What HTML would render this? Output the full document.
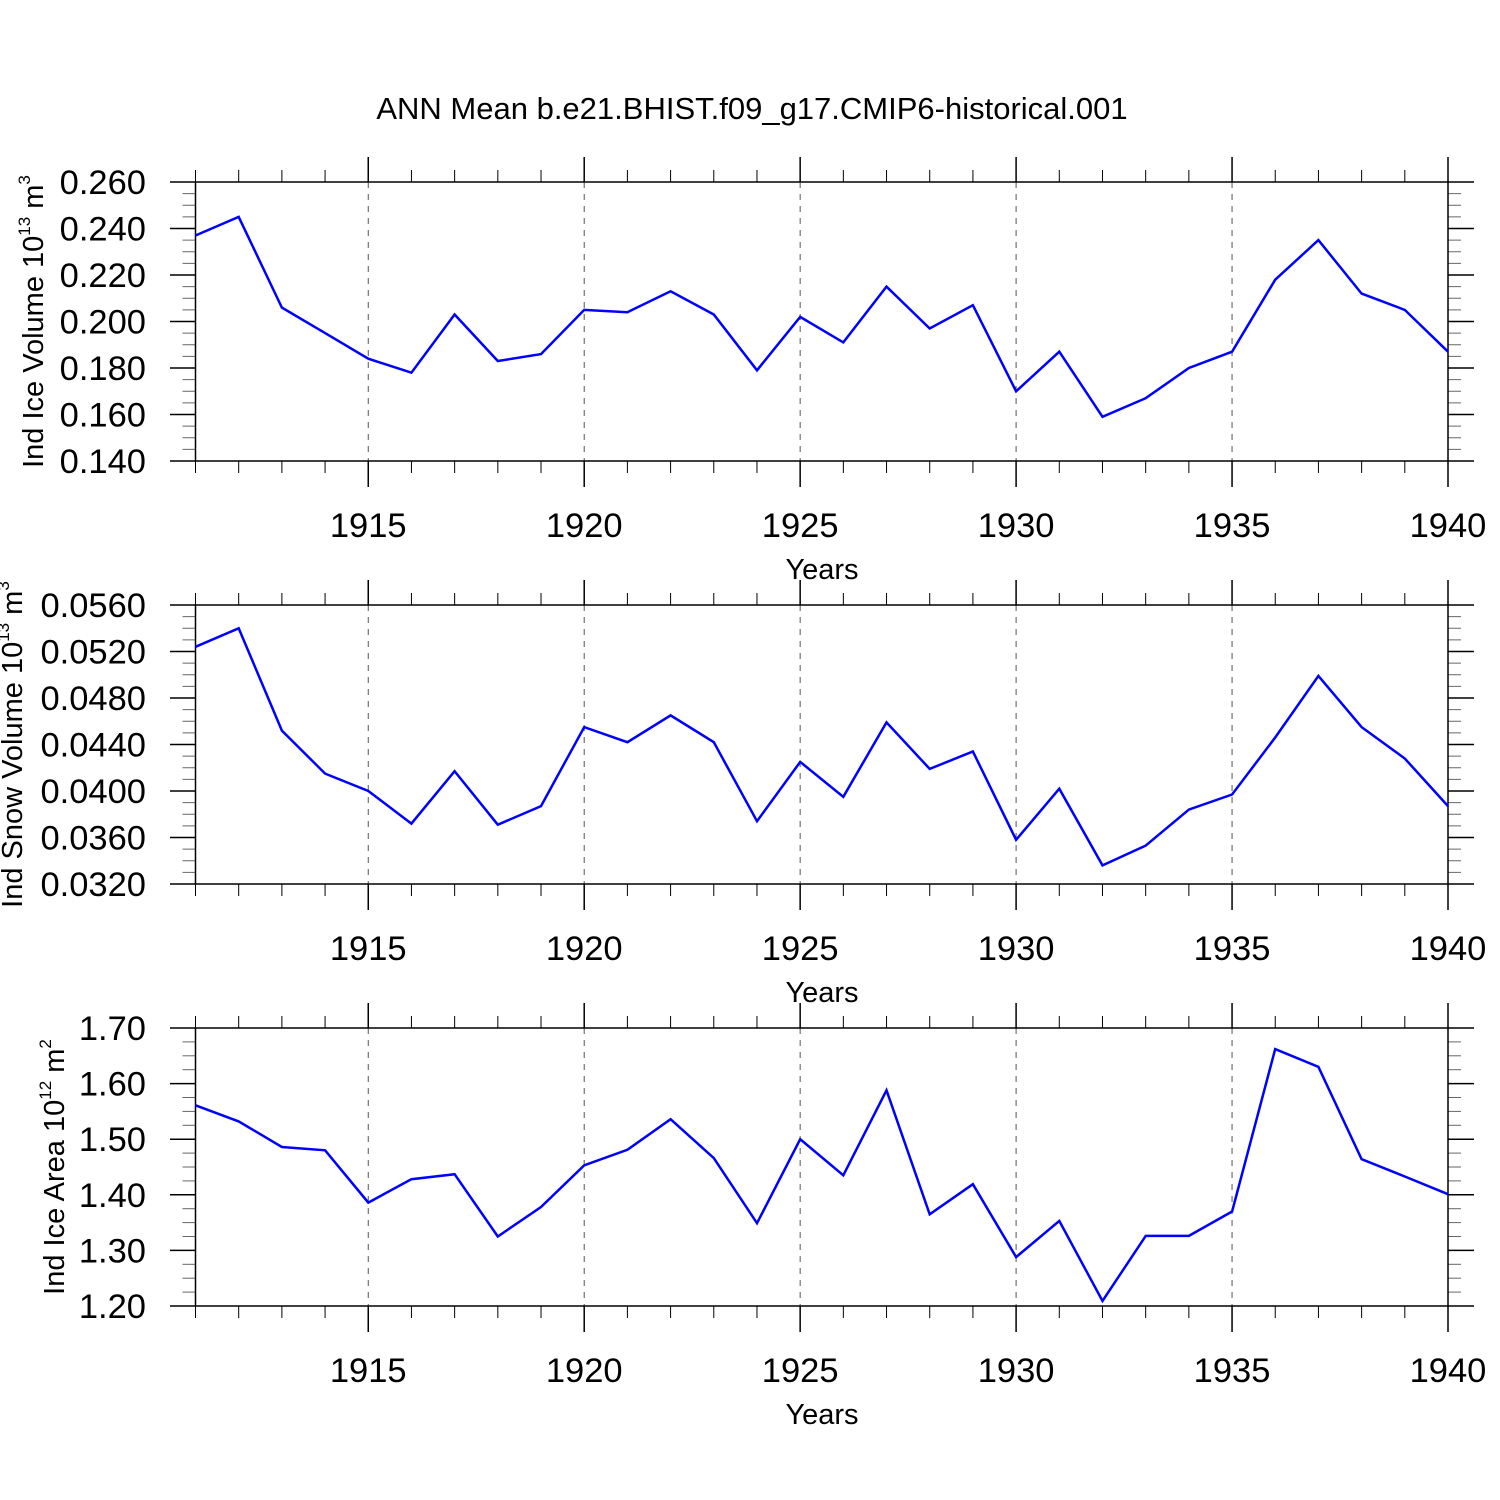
<!DOCTYPE html>
<html><head><meta charset="utf-8"><style>
body{margin:0;background:#fff}
svg{display:block;font-family:"Liberation Sans",sans-serif}
</style></head><body>
<svg id="chart" width="1500" height="1500" viewBox="0 0 1500 1500">
<text x="752" y="119" font-size="31" text-anchor="middle">ANN Mean b.e21.BHIST.f09_g17.CMIP6-historical.001</text>
</svg>
<script>
const years = [1911,1912,1913,1914,1915,1916,1917,1918,1919,1920,1921,1922,1923,1924,1925,1926,1927,1928,1929,1930,1931,1932,1933,1934,1935,1936,1937,1938,1939,1940];
const iceVolume = [0.237,0.245,0.206,0.195,0.184,0.178,0.203,0.183,0.186,0.205,0.204,0.213,0.203,0.179,0.202,0.191,0.215,0.197,0.207,0.170,0.187,0.159,0.167,0.180,0.187,0.218,0.235,0.212,0.205,0.187];
const snowVolume = [0.0524,0.0540,0.0452,0.0415,0.0400,0.0372,0.0417,0.0371,0.0387,0.0455,0.0442,0.0465,0.0442,0.0374,0.0425,0.0395,0.0459,0.0419,0.0434,0.0358,0.0402,0.0336,0.0353,0.0384,0.0397,0.0446,0.0499,0.0455,0.0428,0.0387];
const iceArea = [1.561,1.532,1.486,1.480,1.386,1.428,1.437,1.325,1.378,1.453,1.481,1.536,1.466,1.349,1.500,1.435,1.588,1.365,1.419,1.288,1.353,1.209,1.326,1.326,1.370,1.662,1.630,1.464,1.433,1.401];
const xTickLabels = [1915,1920,1925,1930,1935,1940];
const iceVolTicks = [0.140,0.160,0.180,0.200,0.220,0.240,0.260];
const snowVolTicks = [0.0320,0.0360,0.0400,0.0440,0.0480,0.0520,0.0560];
const areaTicks = [1.20,1.30,1.40,1.50,1.60,1.70];

const svg = document.getElementById('chart');
const NS = 'http://www.w3.org/2000/svg';
function mk(tag, attrs, parent){const e=document.createElementNS(NS,tag);for(const k in attrs)e.setAttribute(k,attrs[k]);(parent||svg).appendChild(e);return e;}
const X0=195.5, X1=1448, xMin=1911, xMax=1940;
const xs = v => X0 + (v-xMin)/(xMax-xMin)*(X1-X0);

function panel(name, top, bottom, vals, ticks, dec, ylab, sup, unit, unitSup, labX){
  const g = mk('g',{});
  
  
  const yMin=ticks[0], yMax=ticks[ticks.length-1];
  const ys = v => bottom - (v-yMin)/(yMax-yMin)*(bottom-top);
  xTickLabels.forEach(t=>{ if(t<xMax) mk('line',{x1:xs(t),x2:xs(t),y1:top,y2:bottom,stroke:'#555','stroke-width':1,'stroke-dasharray':'6,6'},g); });
  for(let yr=xMin; yr<=xMax; yr++){
    const maj = xTickLabels.includes(yr);
    const x = xs(yr);
    mk('line',{x1:x,x2:x,y1:top-(maj?25:12),y2:top,stroke:'#000','stroke-width':maj?1.5:1},g);
    mk('line',{x1:x,x2:x,y1:bottom,y2:bottom+(maj?26:12),stroke:'#000','stroke-width':maj?1.5:1},g);
  }
  const step=(ticks[1]-ticks[0])/4;
  for(let i=0;i<ticks.length-1;i++){
    for(let k=1;k<4;k++){
      const y=ys(ticks[i]+k*step);
      mk('line',{x1:X0-13,x2:X0,y1:y,y2:y,stroke:'#666','stroke-width':1},g);
      mk('line',{x1:X1,x2:X1+13,y1:y,y2:y,stroke:'#666','stroke-width':1},g);
    }
  }
  ticks.forEach(t=>{
    const y=ys(t);
    mk('line',{x1:170,x2:X0,y1:y,y2:y,stroke:'#000','stroke-width':1.5},g);
    mk('line',{x1:X1,x2:1474,y1:y,y2:y,stroke:'#000','stroke-width':1.5},g);
    const tx=mk('text',{x:146,y:y+12,'font-size':34.5,'text-anchor':'end'},g);
    tx.textContent=t.toFixed(dec);
    
    
  });
  mk('rect',{x:X0,y:top,width:X1-X0,height:bottom-top,fill:'none',stroke:'#000','stroke-width':1.5},g);
  xTickLabels.forEach(t=>{
    const tx=mk('text',{x:xs(t),y:bottom+76,'font-size':34.5,'text-anchor':'middle'},g);
    tx.textContent=t;
    
    
  });
  const xt=mk('text',{x:822,y:bottom+118,'font-size':29,'text-anchor':'middle'},g);
  xt.textContent='Years';
  
  
  const cy=(top+bottom)/2;
  const yt=mk('text',{x:0,y:0,'font-size':29,'text-anchor':'middle',transform:`translate(${labX},${cy}) rotate(-90)`},g);
  
  
  yt.innerHTML = ylab+' 10<tspan dy="-13" font-size="17">'+sup+'</tspan><tspan dy="13"> '+unit+'</tspan><tspan dy="-13" font-size="17">'+unitSup+'</tspan>';
  const pts=vals.map((v,i)=>xs(years[i]).toFixed(1)+','+ys(v).toFixed(1)).join(' ');
  const pl=mk('polyline',{points:pts,fill:'none',stroke:'#0000ff','stroke-width':2.5,'stroke-linejoin':'miter'},g);
  
  
}
panel('ice-volume',182,461,iceVolume,iceVolTicks,3,'Ind Ice Volume','13','m','3',43);
panel('snow-volume',605,884,snowVolume,snowVolTicks,4,'Ind Snow Volume','13','m','3',22);
panel('ice-area',1028,1306,iceArea,areaTicks,2,'Ind Ice Area','12','m','2',64);
</script>
</body></html>
